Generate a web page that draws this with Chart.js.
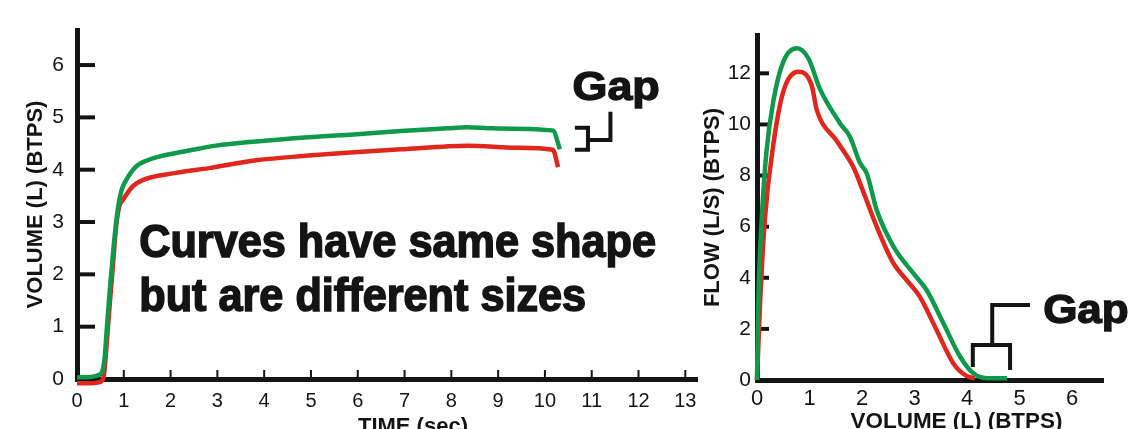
<!DOCTYPE html>
<html>
<head>
<meta charset="utf-8">
<script src="https://cdn.jsdelivr.net/npm/chart.js@4.4.1/dist/chart.umd.min.js"></script>
<style>
  html, body { margin: 0; padding: 0; background: #fff; overflow: hidden; }
  #wrap { position: relative; width: 1135px; height: 429px; }
  #curvaVT { position: absolute; left: 0; top: 0; width: 712px; height: 429px; }
  #curvaFV { position: absolute; left: 690px; top: 0; width: 445px; height: 429px; }
</style>
</head>
<body>
<div id="wrap">
  <canvas id="curvaVT" width="712" height="429"></canvas>
  <canvas id="curvaFV" width="445" height="429"></canvas>
</div>
<script>
// --- datos ---

// volumen-tiempo (izquierda)
const tiempoVerde = [0, 0.3, 0.45, 0.54, 0.59, 0.64, 0.71, 0.79, 0.87, 0.95, 1.05, 1.26, 1.48, 1.75, 2.47, 2.97, 3.83, 4.95, 5.84, 6.92, 7.91, 8.33, 8.9, 10.17, 10.32];
const volumenVerde = [0.03, 0.04, 0.07, 0.15, 0.4, 1.0, 1.8, 2.6, 3.23, 3.6, 3.8, 4.06, 4.17, 4.25, 4.38, 4.46, 4.54, 4.62, 4.67, 4.74, 4.79, 4.81, 4.79, 4.75, 4.39];
const tiempoRojo = [0, 0.3, 0.49, 0.57, 0.62, 0.69, 0.76, 0.83, 0.9, 0.98, 1.19, 1.4, 2.12, 2.82, 3.83, 4.95, 5.84, 6.92, 8.36, 9.4, 10.17, 10.28];
const volumenRojo = [-0.08, -0.08, -0.06, 0.05, 0.5, 1.32, 2.08, 2.85, 3.29, 3.42, 3.68, 3.8, 3.94, 4.03, 4.18, 4.27, 4.33, 4.39, 4.46, 4.42, 4.38, 4.05];

// flujo-volumen (derecha)
const volVerdeFV = [0, 0.025, 0.09, 0.18, 0.31, 0.5, 0.76, 0.98, 1.2, 1.58, 1.77, 1.96, 2.09, 2.28, 2.6, 2.98, 3.23, 3.55, 3.87, 4.12, 4.38, 4.76];
const flujoVerde = [0, 3.06, 6.3, 8.93, 10.9, 12.45, 12.98, 12.58, 11.38, 10.05, 9.52, 8.5, 8.09, 6.65, 5.22, 4.17, 3.52, 2.22, 0.91, 0.26, 0.07, 0.07];
const volRojoFV = [0, 0.06, 0.15, 0.31, 0.5, 0.79, 1.04, 1.14, 1.52, 1.83, 2.0, 2.28, 2.6, 2.85, 3.1, 3.42, 3.74, 3.99, 4.15];
const flujoRojo = [0, 3.06, 6.3, 9.2, 11.28, 12.06, 11.54, 10.56, 9.35, 8.35, 7.5, 6.0, 4.56, 3.91, 3.26, 1.96, 0.65, 0.16, 0.07];

// etiquetas de los ejes
const ticksTiempo = [0, 1, 2, 3, 4, 5, 6, 7, 8, 9, 10, 11, 12, 13];
const ticksVolumen = [0, 1, 2, 3, 4, 5, 6];
const ticksVolFV = [0, 1, 2, 3, 4, 5, 6];
const ticksFlujo = [0, 2, 4, 6, 8, 10, 12];

// --- estilos ---
const TINTA = '#141414';
const VERDE = '#0e9a4a';
const ROJO = '#e1261c';
const FAMILIA = "'Liberation Sans', Arial, Helvetica, sans-serif";

Chart.defaults.font.family = FAMILIA;
Chart.defaults.color = TINTA;

const pares = (xs, ys) => xs.map((x, i) => ({ x, y: ys[i] }));
const fijarTicks = valores => scale => { scale.ticks = valores.map(v => ({ value: v })); };

// marcas de escala hacia dentro del area del grafico
const marcasInternas = {
  id: 'marcasInternas',
  beforeDatasetsDraw(chart, args, opts) {
    const { ctx } = chart;
    ctx.save();
    ctx.strokeStyle = TINTA;
    (opts.ejes || []).forEach(e => {
      const scale = chart.scales[e.id];
      ctx.lineWidth = e.grosor;
      scale.ticks.forEach(t => {
        if (t.value === 0) return;
        const p = scale.getPixelForValue(t.value);
        ctx.beginPath();
        if (scale.isHorizontal()) {
          ctx.moveTo(p, scale.top);
          ctx.lineTo(p, scale.top - e.largo);
        } else {
          ctx.moveTo(scale.right, p);
          ctx.lineTo(scale.right + e.largo, p);
        }
        ctx.stroke();
      });
    });
    ctx.restore();
  }
};

// textos y corchetes "Gap", ubicados en unidades de datos
const notas = {
  id: 'notas',
  afterDatasetsDraw(chart, args, opts) {
    const { ctx } = chart;
    const sx = chart.scales.x, sy = chart.scales.y;
    ctx.save();
    ctx.strokeStyle = TINTA;
    ctx.fillStyle = TINTA;
    ctx.lineWidth = 4;
    ctx.lineJoin = 'miter';
    (opts.trazos || []).forEach(tr => {
      ctx.beginPath();
      tr.forEach(([vx, vy], i) => {
        const px = sx.getPixelForValue(vx), py = sy.getPixelForValue(vy);
        if (i) ctx.lineTo(px, py); else ctx.moveTo(px, py);
      });
      ctx.stroke();
    });
    (opts.textos || []).forEach(t => {
      ctx.save();
      ctx.font = t.fuente;
      ctx.textBaseline = 'alphabetic';
      ctx.textAlign = t.alinear || 'left';
      ctx.translate(sx.getPixelForValue(t.x), sy.getPixelForValue(t.y));
      ctx.scale(t.escala || 1, 1);
      ctx.fillText(t.texto, 0, 0);
      if (t.trazo) { ctx.lineWidth = t.trazo; ctx.strokeText(t.texto, 0, 0); }
      ctx.restore();
    });
    ctx.restore();
  }
};

const linea = (datos, color) => ({
  data: datos,
  borderColor: color,
  borderWidth: 4.5,
  pointRadius: 0,
  fill: false,
  clip: false,
  cubicInterpolationMode: 'monotone'
});

const ejeBase = (min, max, ticks, tamFuente, pad) => ({
  type: 'linear',
  min, max,
  afterBuildTicks: fijarTicks(ticks),
  grid: { drawOnChartArea: false, drawTicks: false },
  border: { color: TINTA, width: 5 },
  ticks: { padding: pad, autoSkip: false, maxRotation: 0, font: { size: tamFuente }, callback: v => String(v) }
});

// --- grafico 1: volumen-tiempo ---
const ejeXVT = ejeBase(0, 13.25, ticksTiempo, 20, 10);
ejeXVT.afterFit = s => { s.height = 50; };
const ejeYVT = ejeBase(0, 6.67, ticksVolumen, 21, 13);
ejeYVT.afterFit = s => { s.width = 77; };
ejeYVT.title = { display: true, text: 'VOLUME (L) (BTPS)', font: { size: 22, weight: 'bold' }, padding: { top: 23, bottom: 0 } };

new Chart(document.getElementById('curvaVT'), {
  type: 'line',
  data: { datasets: [linea(pares(tiempoVerde, volumenVerde), VERDE), linea(pares(tiempoRojo, volumenRojo), ROJO)] },
  options: {
    responsive: false,
    animation: false,
    events: [],
    layout: { padding: { top: 30, right: 15, left: 0, bottom: 0 } },
    plugins: {
      legend: { display: false },
      tooltip: { enabled: false },
      marcasInternas: { ejes: [{ id: 'x', largo: 9, grosor: 2 }, { id: 'y', largo: 18, grosor: 4 }] },
      notas: {
        trazos: [
          [[10.64, 4.80], [10.92, 4.80], [10.92, 4.38], [10.64, 4.38]],
          [[10.92, 4.57], [11.40, 4.57], [11.40, 5.11]]
        ],
        textos: [
          { texto: 'Curves have same shape', x: 1.33, y: 2.33, fuente: `bold 46px ${FAMILIA}`, escala: 0.94, trazo: 1.6 },
          { texto: 'but are different sizes', x: 1.33, y: 1.30, fuente: `bold 46px ${FAMILIA}`, escala: 0.94, trazo: 1.6 },
          { texto: 'Gap', x: 10.59, y: 5.33, fuente: `bold 40px ${FAMILIA}`, escala: 1.12, trazo: 1.4 },
          { texto: 'TIME (sec)', x: 7.18, y: -1.04, fuente: `bold 22px ${FAMILIA}`, alinear: 'center' }
        ]
      }
    },
    scales: { x: ejeXVT, y: ejeYVT }
  },
  plugins: [marcasInternas, notas]
});

// --- grafico 2: flujo-volumen ---
const ejeXFV = ejeBase(0, 6.59, ticksVolFV, 22, 6);
ejeXFV.afterFit = s => { s.height = 49; };
const ejeYFV = ejeBase(0, 13.5, ticksFlujo, 21, 6);
ejeYFV.afterFit = s => { s.width = 67; };
ejeYFV.title = { display: true, text: 'FLOW (L/S) (BTPS)', font: { size: 22, weight: 'bold' }, padding: { top: 10, bottom: 0 } };

new Chart(document.getElementById('curvaFV'), {
  type: 'line',
  data: { datasets: [linea(pares(volVerdeFV, flujoVerde), VERDE), linea(pares(volRojoFV, flujoRojo), ROJO)] },
  options: {
    responsive: false,
    animation: false,
    events: [],
    layout: { padding: { top: 35, right: 32, left: 0, bottom: 0 } },
    plugins: {
      legend: { display: false },
      tooltip: { enabled: false },
      marcasInternas: { ejes: [{ id: 'y', largo: 12, grosor: 4 }] },
      notas: {
        trazos: [
          [[4.11, 0.51], [4.11, 1.37], [4.82, 1.37], [4.82, 0.39]],
          [[4.48, 1.37], [4.48, 2.93], [5.2, 2.93]]
        ],
        textos: [
          { texto: 'Gap', x: 5.45, y: 2.23, fuente: `bold 40px ${FAMILIA}`, escala: 1.1, trazo: 1.4 },
          { texto: 'VOLUME (L) (BTPS)', x: 3.8, y: -1.88, fuente: `bold 22px ${FAMILIA}`, alinear: 'center', escala: 1.02 }
        ]
      }
    },
    scales: { x: ejeXFV, y: ejeYFV }
  },
  plugins: [marcasInternas, notas]
});
</script>
</body>
</html>
